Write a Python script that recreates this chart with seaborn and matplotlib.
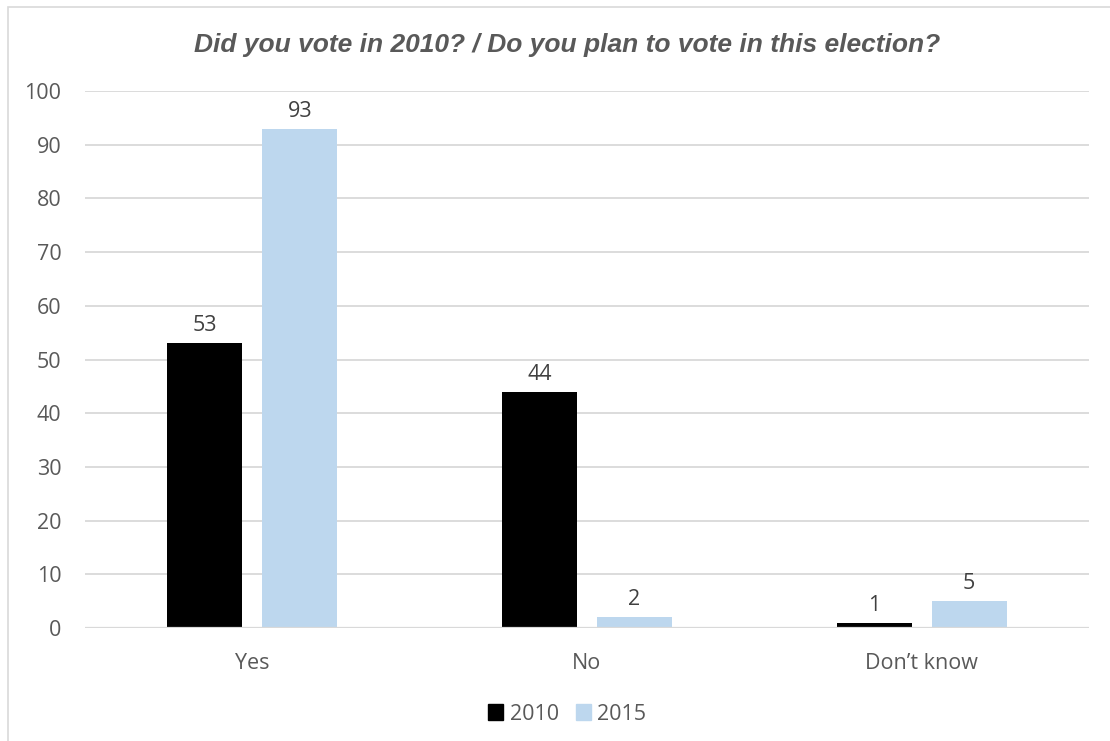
import matplotlib
matplotlib.use("Agg")
import matplotlib.pyplot as plt
import matplotlib.patches as mpatches
import seaborn as sns
import pandas as pd

categories = ["Yes", "No", "Don\u2019t know"]
years = ["2010", "2015"]
values_2010 = [53, 44, 1]
values_2015 = [93, 2, 5]
y_ticks = [0, 10, 20, 30, 40, 50, 60, 70, 80, 90, 100]
title = "Did you vote in 2010? / Do you plan to vote in this election?"

df = pd.DataFrame({
    "answer": categories * 2,
    "year": [years[0]] * len(categories) + [years[1]] * len(categories),
    "pct": values_2010 + values_2015,
})

sns.set_theme(style="white")
plt.rcParams["font.family"] = ["Open Sans", "DejaVu Sans"]

text_grey = "#595959"
grid_grey = "#d9d9d9"
colors = {"2010": "#000000", "2015": "#bdd7ee"}
fs = 15.5

fig = plt.figure(figsize=(11.1, 7.41), dpi=100)
ax = fig.add_axes([85 / 1110, 1 - 628 / 741, (1089 - 85) / 1110, (628 - 91) / 741])

sns.barplot(data=df, x="answer", y="pct", hue="year", order=categories,
            hue_order=years, palette=colors, width=0.568, gap=0.211,
            saturation=1, legend=False, linewidth=0, ax=ax, zorder=3)

for container in ax.containers:
    ax.bar_label(container, fmt="%d", padding=5, fontsize=fs, color="#404040")

ax.set_xlim(-0.5, 2.5)
ax.set_ylim(0, 100)
ax.set_yticks(y_ticks)
ax.set_yticklabels([str(t) for t in y_ticks], fontsize=fs, color=text_grey)
ax.tick_params(axis="x", labelsize=fs, colors=text_grey, pad=18, length=0)
ax.tick_params(axis="y", pad=17, length=0)
ax.set_xlabel("")
ax.set_ylabel("")
ax.yaxis.grid(True, color=grid_grey, linewidth=1.3, zorder=0)
ax.set_axisbelow(True)
for s in ax.spines.values():
    s.set_visible(False)
ax.axhline(0, color=grid_grey, linewidth=1.6, zorder=4)

fig.text(0.511, 1 - 45 / 741, title, ha="center", va="center",
         fontsize=19, fontweight="bold", fontstyle="italic",
         color=text_grey, family=["Liberation Sans", "DejaVu Sans"])

handles = [mpatches.Patch(color=colors[y], label=y) for y in years]
fig.legend(handles=handles, loc="center", bbox_to_anchor=(0.511, 1 - 714 / 741),
           ncol=2, frameon=False, fontsize=fs, labelcolor=text_grey,
           handlelength=0.7, handleheight=0.7, handletextpad=0.3,
           columnspacing=0.8)

border = mpatches.Rectangle((8 / 1110, -0.05), 1.1, 1 - 7 / 741 + 0.05,
                            transform=fig.transFigure, fill=False,
                            edgecolor=grid_grey, linewidth=1.2)
fig.patches.append(border)

fig.savefig("out.png", dpi=100, facecolor="white")
